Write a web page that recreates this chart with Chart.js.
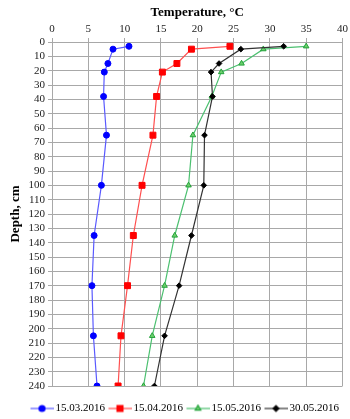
<!DOCTYPE html>
<html>
<head>
<meta charset="utf-8">
<script src="https://cdn.jsdelivr.net/npm/chart.js@4/dist/chart.umd.min.js"></script>
<style>
  html, body { margin: 0; padding: 0; background: #fff; }
  #wrap { width: 350px; height: 419px; }
</style>
</head>
<body>
<div id="wrap"><canvas id="chart"></canvas></div>
<script>
// depth of each measurement, cm
const depths = [3, 5, 15, 21, 38, 65, 100, 135, 170, 205, 240];
const seriesNames = ['15.03.2016', '15.04.2016', '15.05.2016', '30.05.2016'];
// temperatures, °C
const temp1503 = [10.6, 8.4, 7.7, 7.2, 7.1, 7.5, 6.8, 5.8, 5.5, 5.7, 6.2];
const temp1504 = [24.5, 19.2, 17.2, 15.2, 14.4, 13.9, 12.4, 11.2, 10.4, 9.5, 9.1];
const temp1505 = [35.0, 29.1, 26.1, 23.3, 22.0, 19.4, 18.8, 16.9, 15.5, 13.8, 12.6];
const temp3005 = [31.9, 26.0, 23.0, 21.9, 22.1, 21.0, 20.9, 19.2, 17.5, 15.5, 14.1];
const xTicks = [0, 5, 10, 15, 20, 25, 30, 35, 40];
const yTicks = [0, 240, 10]; // min, max, step

const serif = "'Liberation Serif', 'Times New Roman', serif";

const styles = [
    { line: '#5a5aff', fill: '#0000ff', border: '#0000ff', shape: 'circle', r: 3 },
    { line: '#ff5050', fill: '#ff0000', border: '#ff0000', shape: 'rect', r: 4.2 },
    { line: '#4cc070', fill: '#6ccf6c', border: '#23a23a', shape: 'triangle', r: 3.2 },
    { line: '#333333', fill: '#000000', border: '#000000', shape: 'rectRot', r: 2.8 }
];

function pts(temps) {
    return temps.map((t, i) => ({ x: t, y: depths[i] }));
}

// little line+marker picture for the legend (left part is empty so the line sits close to the text)
function legendIcon(st) {
    const c = document.createElement('canvas');
    c.width = 28; c.height = 10;
    const g = c.getContext('2d');
    g.strokeStyle = st.line;
    g.lineWidth = 1.2;
    g.beginPath(); g.moveTo(5, 5); g.lineTo(28, 5); g.stroke();
    g.fillStyle = st.fill;
    g.strokeStyle = st.border;
    Chart.helpers.drawPoint(g, { pointStyle: st.shape, radius: st.r, rotation: 0, borderWidth: 1 }, 16.5, 5);
    return c;
}

// push the legend a bit lower / left under the plot
const legendShift = {
    id: 'legendShift',
    afterLayout(chart) {
        chart.legend.top += 15;
        chart.legend.bottom += 15;
        chart.legend.left -= 3;
        chart.legend.right -= 3;
    }
};

const allTemps = [temp1503, temp1504, temp1505, temp3005];
const datasets = allTemps.map((temps, i) => ({
    label: seriesNames[i],
    data: pts(temps),
    showLine: true,
    borderColor: styles[i].line,
    borderWidth: 1.2,
    backgroundColor: styles[i].fill,
    pointBackgroundColor: styles[i].fill,
    pointBorderColor: styles[i].border,
    pointBorderWidth: 1,
    pointStyle: styles[i].shape,
    pointRadius: styles[i].r,
    order: 3 - i
}));

new Chart(document.getElementById('chart'), {
    type: 'scatter',
    data: { datasets: datasets },
    plugins: [legendShift],
    options: {
        responsive: true,
        maintainAspectRatio: false,
        animation: false,
        layout: { padding: { top: 0, right: 6, bottom: 10, left: 0 } },
        scales: {
            x: {
                position: 'top',
                min: xTicks[0],
                max: xTicks[xTicks.length - 1],
                afterFit: s => { s.height = 42; },
                ticks: { stepSize: 5, color: '#222', padding: 2, font: { family: serif, size: 11 } },
                grid: { color: '#a8a8a8', tickLength: 4 },
                border: { color: '#a8a8a8' },
                title: { display: true, text: 'Temperature, °C', color: '#000', padding: { top: 5, bottom: 0 },
                         font: { family: serif, size: 13, weight: 'bold' } }
            },
            y: {
                reverse: true,
                min: yTicks[0],
                max: yTicks[1],
                afterFit: s => { s.width = 52; },
                ticks: { stepSize: yTicks[2], autoSkip: false, color: '#222', padding: 3, font: { family: serif, size: 11 } },
                grid: { color: '#a8a8a8', tickLength: 4 },
                border: { color: '#a8a8a8' },
                title: { display: true, text: 'Depth, cm', color: '#000', padding: { top: 8, bottom: 0 },
                         font: { family: serif, size: 13, weight: 'bold' } }
            }
        },
        plugins: {
            tooltip: { enabled: false },
            legend: {
                position: 'bottom',
                align: 'end',
                labels: {
                    usePointStyle: true,
                    pointStyleWidth: 21,
                    boxHeight: 10,
                    padding: 2,
                    color: '#222',
                    font: { family: serif, size: 11 },
                    generateLabels: chart => chart.data.datasets.map((ds, i) => ({
                        text: ds.label,
                        pointStyle: legendIcon(styles[i]),
                        fillStyle: styles[i].fill,
                        strokeStyle: styles[i].border,
                        lineWidth: 0,
                        hidden: false,
                        datasetIndex: i
                    }))
                }
            }
        }
    }
});
</script>
</body>
</html>
